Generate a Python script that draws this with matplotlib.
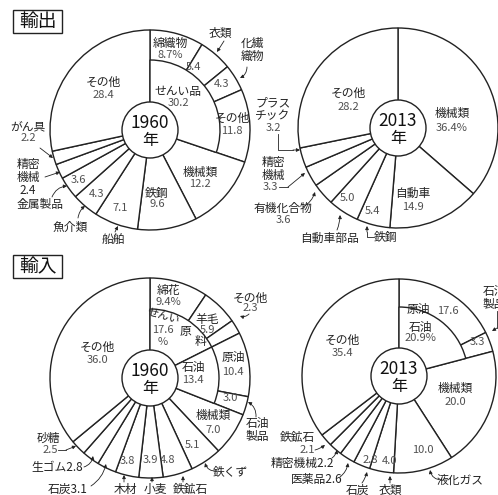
import numpy as np
import matplotlib.pyplot as plt
from matplotlib.patches import Circle, Rectangle

plt.rcParams['font.family'] = ['Noto Sans CJK JP', 'DejaVu Sans']

W, H = 498, 495

# 1960 exports (outer ring = detailed items, inner = groups)
exp1960_labels = ['綿織物', '衣類', '化繊織物', 'その他', '機械類', '鉄鋼', '船舶',
                  '魚介類', '金属製品', '精密機械', 'がん具', 'その他']
exp1960_vals = [8.7, 5.4, 4.3, 11.8, 12.2, 9.6, 7.1, 4.3, 3.6, 2.4, 2.2, 28.4]
exp1960_group = [30.2, 12.2, 9.6, 7.1, 4.3, 3.6, 2.4, 2.2, 28.4]
exp1960_group_shown = [True] + [False] * 8

# 2013 exports
exp2013_labels = ['機械類', '自動車', '鉄鋼', '自動車部品', '有機化合物', '精密機械',
                  'プラスチック', 'その他']
exp2013_vals = [36.4, 14.9, 5.4, 5.0, 3.6, 3.3, 3.2, 28.2]

# 1960 imports
imp1960_labels = ['綿花', '羊毛', 'その他', '原油', '石油製品', '機械類', '鉄くず', '鉄鉱石',
                  '小麦', '木材', '石炭', '生ゴム', '砂糖', 'その他']
imp1960_vals = [9.4, 5.9, 2.3, 10.4, 3.0, 7.0, 5.1, 4.8, 3.9, 3.8, 3.1, 2.8, 2.5, 36.0]
imp1960_group = [17.6, 13.4, 7.0, 5.1, 4.8, 3.9, 3.8, 3.1, 2.8, 2.5, 36.0]
imp1960_group_shown = [True, True] + [False] * 9

# 2013 imports
imp2013_labels = ['原油', '石油製品', '機械類', '液化ガス', '衣類', '石炭', '医薬品',
                  '精密機械', '鉄鉱石', 'その他']
imp2013_vals = [17.6, 3.3, 20.0, 10.0, 4.0, 2.8, 2.6, 2.2, 2.1, 35.4]
imp2013_group = [20.9, 20.0, 10.0, 4.0, 2.8, 2.6, 2.2, 2.1, 35.4]
imp2013_group_shown = [True] + [False] * 8

EC = '#222222'
NC = '#505050'

fig = plt.figure(figsize=(W / 100, H / 100), dpi=100)
ax = fig.add_axes([0, 0, 1, 1])


def donut(vals, center, R, group=None, shown=None, r_in=70, r_c=28, year=''):
	# y axis is inverted, so startangle -90 + counterclock gives clockwise from 12 o'clock
	ax.pie(vals, center=center, radius=R, startangle=-90, counterclock=True, frame=True,
		   wedgeprops=dict(facecolor='white', edgecolor=EC, linewidth=1.0))
	if group is not None:
		wedges, _ = ax.pie(group, center=center, radius=r_in, startangle=-90, counterclock=True,
						   frame=True, wedgeprops=dict(facecolor='white', edgecolor=EC, linewidth=1.0))
		for w, s in zip(wedges, shown):
			if not s:
				w.set_visible(False)
	ax.add_patch(Circle(center, r_c, facecolor='white', edgecolor=EC, lw=1.0, zorder=3))
	ax.text(center[0], center[1] - 7, year, ha='center', va='center', fontsize=12.5, zorder=4,
			color='#111')
	ax.text(center[0], center[1] + 10, '年', ha='center', va='center', fontsize=11.5, zorder=4,
			color='#111')


def lab(x, y, name, num=None, dy=13, fs=8.5):
	ax.text(x, y, name, ha='center', va='center', fontsize=fs, color=EC, zorder=5,
			linespacing=1.05)
	if num is not None:
		ax.text(x, y + dy, num, ha='center', va='center', fontsize=8, color=NC, zorder=5)


def num(x, y, s):
	ax.text(x, y, s, ha='center', va='center', fontsize=8, color=NC, zorder=5)


def lead(start, end, rad=0.0):
	ax.annotate('', xy=end, xytext=start, zorder=5,
				arrowprops=dict(arrowstyle='-|>', lw=0.6, color=EC, shrinkA=0, shrinkB=0,
								mutation_scale=5, connectionstyle='arc3,rad=%s' % rad))


def title_box(x, y, s):
	ax.add_patch(Rectangle((x, y), 49, 23, facecolor='white', edgecolor=EC, lw=1.0))
	ax.text(x + 24.5, y + 11.5, s, ha='center', va='center', fontsize=13.5, color='#111')


# ---- 輸出 ----
title_box(13, 10, '輸出')
donut(exp1960_vals, (150, 130), 100, exp1960_group, exp1960_group_shown, year='1960')
lab(170, 43, '綿織物', '8.7%', dy=12)
num(193, 67, '5.4')
num(222, 84, '4.3')
lab(220, 33, '衣類')
lead((224, 41), (217, 52))
ax.text(252, 50, '化繊\n織物', ha='center', va='center', fontsize=8.5, color=EC, linespacing=1.05)
lead((247, 67), (240, 78), rad=-0.3)
lab(178, 92, 'せんい品', '30.2', dy=11)
lab(232, 118, 'その他', '11.8', dy=13)
lab(200, 172, '機械類', '12.2', dy=12)
lab(157, 194, '鉄鋼', '9.6', dy=10)
num(120, 208, '7.1')
num(97, 194, '4.3')
num(78, 180, '3.6')
lab(103, 82, 'その他', '28.4', dy=13)
lab(28, 127, 'がん具', '2.2', dy=11)
lead((40, 148), (53, 158))
ax.text(28, 177, '精密\n機械\n2.4', ha='center', va='center', fontsize=8.5, color=EC,
		linespacing=1.0)
lead((45, 177), (60, 172))
lab(40, 204, '金属製品')
lead((52, 197), (67, 186), rad=-0.3)
lab(70, 227, '魚介類')
lead((78, 218), (85, 206), rad=-0.2)
lab(113, 240, '船舶')
lead((115, 232), (118, 226))

donut(exp2013_vals, (398, 128), 100, year='2013')
lab(348, 93, 'その他', '28.2', dy=14)
lab(452, 113, '機械類', '36.4%', dy=15)
lab(413, 193, '自動車', '14.9', dy=14)
num(372, 211, '5.4')
num(347, 198, '5.0')
ax.text(273, 109, 'プラス\nチック', ha='center', va='center', fontsize=8.5, color=EC,
		linespacing=1.0)
num(273, 128, '3.2')
ax.plot([278, 278, 293], [134, 150, 150], color=EC, lw=0.6)
lead((293, 150), (300, 150))
ax.text(273, 169, '精密\n機械', ha='center', va='center', fontsize=8.5, color=EC,
		linespacing=1.0)
num(270, 187, '3.3')
ax.plot([279, 288], [187, 187], color=EC, lw=0.6)
lead((288, 187), (305, 173))
lab(283, 208, '有機化合物', '3.6', dy=12)
lead((303, 207), (315, 192), rad=0.2)
lab(330, 238, '自動車部品')
lead((337, 230), (340, 215), rad=0.1)
lab(386, 238, '鉄鋼')
ax.plot([374, 367, 367], [237, 237, 232], color=EC, lw=0.6)
lead((367, 232), (367, 226))

# ---- 輸入 ----
title_box(13, 255, '輸入')
donut(imp1960_vals, (150, 378), 100, imp1960_group, imp1960_group_shown, r_in=69, year='1960')
lab(168, 290, '綿花', '9.4%', dy=12)
lab(207, 320, '羊毛', '5.9', dy=10)
ax.text(163, 316, 'せんい', ha='center', va='center', fontsize=8, color=EC, rotation=-15)
num(163, 330, '17.6')
num(163, 342, '%')
ax.text(185, 332, '原', ha='center', va='center', fontsize=8.5, color=EC)
ax.text(200, 342, '料', ha='center', va='center', fontsize=8.5, color=EC)
lab(250, 298, 'その他', '2.3', dy=10)
lead((249, 314), (240, 316), rad=-0.3)
lab(233, 358, '原油', '10.4', dy=14)
lab(193, 368, '石油', '13.4', dy=12)
num(230, 398, '3.0')
ax.text(257, 430, '石油\n製品', ha='center', va='center', fontsize=8.5, color=EC,
		linespacing=1.0)
lead((256, 417), (248, 402), rad=0.3)
lab(213, 415, '機械類', '7.0', dy=15)
num(192, 445, '5.1')
num(168, 460, '4.8')
num(150, 460, '3.9')
num(127, 461, '3.8')
lab(230, 472, '鉄くず')
lead((217, 471), (205, 463), rad=-0.4)
lab(190, 489, '鉄鉱石')
lead((183, 482), (183, 476))
lab(155, 489, '小麦')
lead((152, 482), (152, 477))
lab(125, 489, '木材')
lead((124, 482), (124, 475))
ax.text(68, 489, '石炭3.1', ha='center', va='center', fontsize=8.5, color=EC)
lead((91, 486), (106, 464), rad=0.2)
ax.text(57, 468, '生ゴム2.8', ha='center', va='center', fontsize=8.5, color=EC)
lead((84, 467), (93, 456), rad=0.3)
lab(48, 438, '砂糖')
num(50, 450, '2.5')
ax.plot([58, 66], [450, 450], color=EC, lw=0.6)
lead((66, 450), (76, 446))
lab(97, 347, 'その他', '36.0', dy=13)

donut(imp2013_vals, (399, 376), 97, imp2013_group, imp2013_group_shown, r_in=69, year='2013')
ax.text(418, 310, '原油', ha='center', va='center', fontsize=8.5, color=EC)
num(448, 311, '17.6')
lab(420, 327, '石油', '20.9%', dy=11)
num(477, 342, '3.3')
ax.text(483, 298, '石油\n製品', ha='left', va='center', fontsize=8.5, color=EC,
		linespacing=1.0)
ax.plot([497, 497], [311, 328], color=EC, lw=0.6)
lead((497, 328), (492, 331))
lab(342, 340, 'その他', '35.4', dy=13)
lab(455, 388, '機械類', '20.0', dy=14)
num(423, 450, '10.0')
num(390, 461, '4.0')
num(370, 460, '2.8')
lab(460, 480, '液化ガス')
lead((442, 480), (430, 470), rad=-0.4)
lab(390, 490, '衣類')
lead((390, 483), (390, 476))
lab(357, 490, '石炭')
lead((362, 483), (367, 472), rad=0.1)
ax.text(317, 480, '医薬品2.6', ha='center', va='center', fontsize=8.5, color=EC)
lead((340, 477), (348, 463), rad=0.2)
ax.text(302, 463, '精密機械2.2', ha='center', va='center', fontsize=8.5, color=EC)
lead((332, 458), (337, 450), rad=0.2)
lab(297, 438, '鉄鉱石')
num(307, 450, '2.1')
lead((315, 450), (325, 445), rad=0.1)

ax.set_xlim(0, W)
ax.set_ylim(H, 0)
ax.set_aspect('auto')
ax.axis('off')
fig.savefig('out.png', dpi=100, facecolor='white')
